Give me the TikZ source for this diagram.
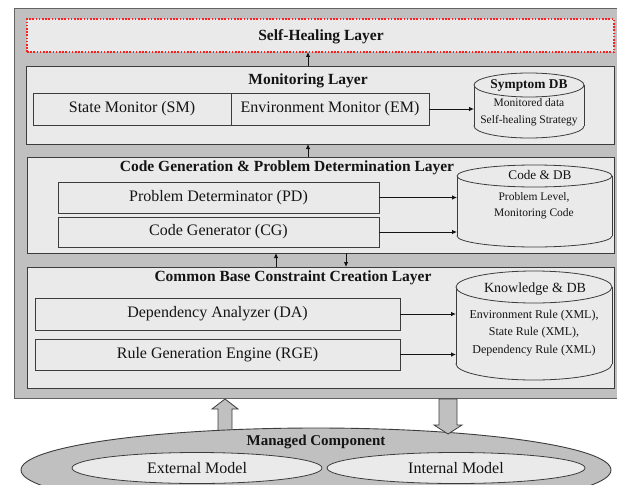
\documentclass[tikz,border=0pt]{standalone}
\usepackage{fontspec}
\setmainfont{Liberation Serif}
\usetikzlibrary{arrows.meta,calc,shapes.geometric}

\definecolor{frame}{HTML}{C0C0C0}
\definecolor{panel}{HTML}{EAEAEA}
\definecolor{edge}{HTML}{3C3C3C}
\definecolor{dotred}{HTML}{FF1E1E}
\definecolor{ink}{HTML}{141414}

% database cylinder drawn inside the rectangle of node #1, end radius #2
\newcommand\dbcyl[2]{%
  \filldraw[fill=panel, draw=edge, line width=0.8pt]
    let \p1=(#1.north west), \p2=(#1.south east), \n1={(\x2-\x1)/2} in
    ({\x1+\n1},{\y2+#2}) ellipse [x radius=\n1, y radius=#2];
  \fill[panel]
    let \p1=(#1.north west), \p2=(#1.south east) in
    (\x1,{\y1-#2}) rectangle (\x2,{\y2+#2});
  \draw[edge, line width=0.8pt]
    let \p1=(#1.north west), \p2=(#1.south east) in
    (\x1,{\y1-#2}) -- (\x1,{\y2+#2}) (\x2,{\y1-#2}) -- (\x2,{\y2+#2});
  \filldraw[fill=panel, draw=edge, line width=0.8pt]
    let \p1=(#1.north west), \p2=(#1.south east), \n1={(\x2-\x1)/2} in
    ({\x1+\n1},{\y1-#2}) ellipse [x radius=\n1, y radius=#2];
}

\begin{document}
\begin{tikzpicture}[x=1pt, y=-1pt,
  every node/.style={text=ink},
  rect/.style={rectangle, anchor=north west, inner sep=0pt, outer sep=0pt},
  layer/.style={rect, draw=edge, fill=panel, line width=0.9pt},
  unit/.style={rect, draw=edge, fill=panel, line width=0.8pt},
  dbarea/.style={rect},
  ttl/.style={font=\bfseries\fontsize{15.5}{17}\selectfont},
  utxt/.style={font=\fontsize{16}{18}\selectfont},
  dbhead/.style={font=\fontsize{13.2}{15}\selectfont},
  dbtxt/.style={font=\fontsize{11.5}{13}\selectfont},
  kbtxt/.style={font=\fontsize{12}{14}\selectfont},
  link/.style={draw=ink, line width=0.8pt, -{Latex[length=5pt,width=4.5pt]}},
  bigarrow/.style={draw=edge, fill=frame, line width=0.8pt, line join=miter},
]
\useasboundingbox (0,0) rectangle (617,484);
\fill[white] (0,0) rectangle (617,484);

% outer frame
\node[rect, draw=edge!80, fill=frame, line width=0.9pt,
      minimum width=611, minimum height=390] (frm) at (14,8) {};

% self-healing layer
\node[rect, fill=panel, draw=dotred, line width=1.8pt,
      dash pattern=on 1.6pt off 1.6pt,
      minimum width=587, minimum height=33] (sh) at (27,19) {};
\node[ttl] (shT) at (321,37) {Self-Healing Layer};

% monitoring layer
\node[layer, minimum width=588, minimum height=78] (mon) at (26,66) {};
\node[ttl] (monT) at (308,81) {Monitoring Layer};
\node[unit, minimum width=198, minimum height=32] (sm) at (33,93) {};
\node[utxt] (smT) at (sm.center) {State Monitor (SM)};
\node[unit, minimum width=198, minimum height=32] (em) at (231,93) {};
\node[utxt] (emT) at (em.center) {Environment Monitor (EM)};
\node[dbarea, minimum width=110, minimum height=65] (sdb) at (474,73) {};
\dbcyl{sdb}{12pt}
\node[font=\bfseries\fontsize{13.4}{15}\selectfont] (sdbH) at (529,86) {Symptom DB};
\node[dbtxt] (sdb1) at (529,103) {Monitored data};
\node[dbtxt] (sdb2) at (529,121) {Self-healing Strategy};

% code generation & problem determination layer
\node[layer, minimum width=587, minimum height=96] (cgl) at (27,157) {};
\node[ttl] (cglT) at (287,168) {Code Generation \& Problem Determination Layer};
\node[unit, minimum width=321, minimum height=31] (pd) at (58,182) {};
\node[utxt] (pdT) at (pd.center) {Problem Determinator (PD)};
\node[unit, minimum width=321, minimum height=30] (cg) at (58,217) {};
\node[utxt] (cgT) at (cg.center) {Code Generator (CG)};
\node[dbarea, minimum width=155, minimum height=82] (cdb) at (457,165) {};
\dbcyl{cdb}{11pt}
\node[dbhead] (cdbH) at (540,175) {Code \& DB};
\node[dbtxt] (cdb1) at (534,197) {Problem Level,};
\node[dbtxt] (cdb2) at (534,214) {Monitoring Code};

% common base constraint creation layer
\node[layer, minimum width=587, minimum height=121] (cbl) at (27,267) {};
\node[ttl] (cblT) at (293,278) {Common Base Constraint Creation Layer};
\node[unit, minimum width=365, minimum height=32] (da) at (35,298) {};
\node[utxt] (daT) at (da.center) {Dependency Analyzer (DA)};
\node[unit, minimum width=365, minimum height=31] (rge) at (35,339) {};
\node[utxt] (rgeT) at (rge.center) {Rule Generation Engine (RGE)};
\node[dbarea, minimum width=156, minimum height=109] (kdb) at (456,271) {};
\dbcyl{kdb}{16pt}
\node[font=\fontsize{14}{16}\selectfont] (kdbH) at (535,289) {Knowledge \& DB};
\node[kbtxt] (kdb1) at (534,316) {Environment Rule (XML),};
\node[kbtxt] (kdb2) at (534,333) {State Rule (XML),};
\node[kbtxt] (kdb3) at (534,351) {Dependency Rule (XML)};

% connectors inside the layers
\draw[link] (em.east) -- (em.east -| sdb.west);
\draw[link] (pd.east) -- (pd.east -| cdb.west);
\draw[link] (cg.east) -- (cg.east -| cdb.west);
\draw[link] (da.east) -- (da.east -| kdb.west);
\draw[link] (rge.east) -- (rge.east -| kdb.west);

% connectors between the layers
\coordinate (up1) at (308,66);
\coordinate (up2) at (308,157);
\coordinate (up3) at (276,267);
\coordinate (dn3) at (346,253);
\draw[link] (up1) -- (up1 |- sh.south);
\draw[link] (up2) -- (up2 |- mon.south);
\draw[link] (up3) -- (up3 |- cgl.south);
\draw[link] (dn3) -- (dn3 |- cbl.north);

% sensing arrow from the managed component
\coordinate (upA) at (225,399);
\draw[bigarrow] (upA) -- ++(13,10) -- ++(-6,0) -- ++(0,32) -- ++(-14,0)
  -- ++(0,-32) -- ++(-6,0) -- cycle;

% managed component
\node[ellipse, draw=edge, fill=frame, line width=0.9pt, inner sep=0pt,
      minimum width=590, minimum height=84] (mc) at (316,470) {};
\node[font=\bfseries\fontsize{15}{17}\selectfont] (mcT) at (316,442) {Managed Component};
\node[ellipse, draw=edge, fill=panel, line width=0.8pt, inner sep=0pt,
      minimum width=250, minimum height=31, utxt] (ext) at (197,468) {External Model};
\node[ellipse, draw=edge, fill=panel, line width=0.8pt, inner sep=0pt,
      minimum width=258, minimum height=31, utxt] (int) at (456,468) {Internal Model};

% effecting arrow into the managed component
\coordinate (dnA) at (448,399);
\draw[bigarrow] (dnA) ++(-9,0) -- ++(18,0) -- ++(0,26) -- ++(5,0) -- ++(-14,9)
  -- ++(-14,-9) -- ++(5,0) -- cycle;
\end{tikzpicture}
\end{document}
